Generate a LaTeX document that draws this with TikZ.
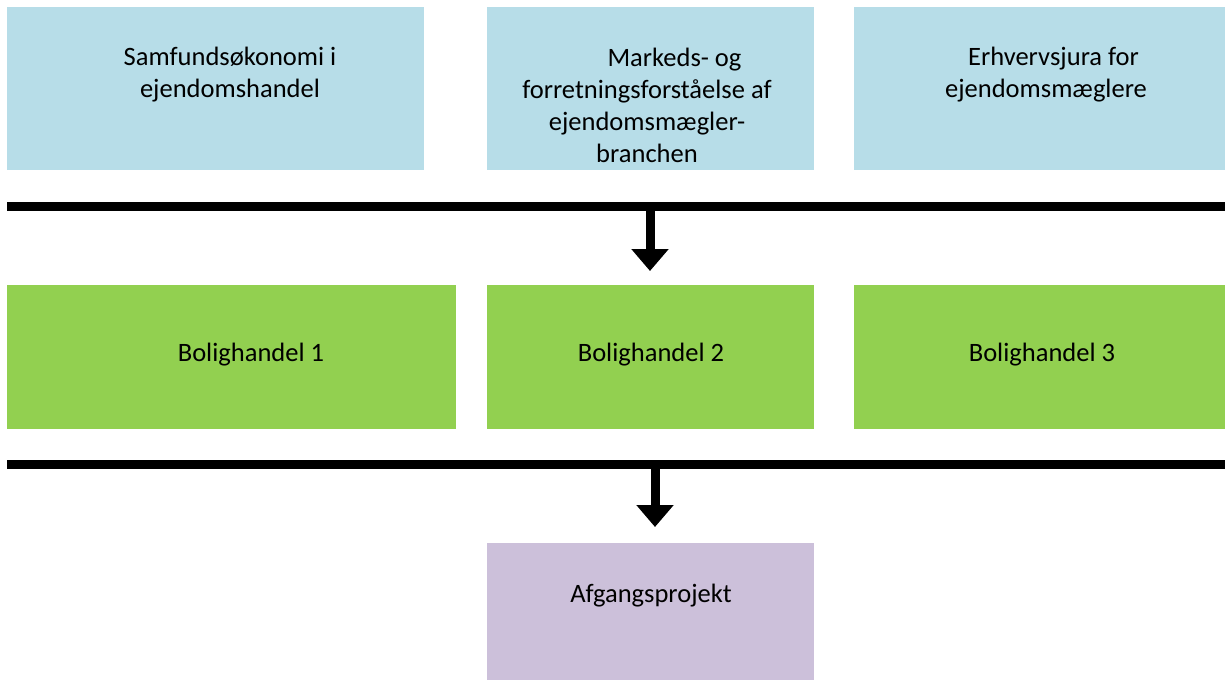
\documentclass[tikz,border=0pt]{standalone}
\usepackage{fontspec}
\setmainfont{Carlito}
\usetikzlibrary{arrows.meta}
\definecolor{lblue}{HTML}{B7DDE8}
\definecolor{lgreen}{HTML}{92D050}
\definecolor{lpurple}{HTML}{CCC0DA}
\begin{document}
\begin{tikzpicture}[x=0.02cm,y=-0.02cm]
        \tikzset{sq/.style={inner sep=0pt, outer sep=0pt, minimum height=3.26cm},
                 t/.style={inner sep=0pt, anchor=base, align=center,
                   font=\fontsize{15.1pt}{18.2pt}\selectfont},
                 bar/.style={line width=0.18cm},
                 arr/.style={line width=0.18cm, -{Triangle[width=0.72cm,length=0.44cm]}}}
        \useasboundingbox (0,0) rectangle (1225,680);

        % first row
        \draw node[sq, fill=lblue, minimum width=8.34cm] (eco) at (215.5,88.5) {};
        \draw node[sq, fill=lblue, minimum width=6.54cm] (mkt) at (650.5,88.5) {};
        \draw node[sq, fill=lblue, minimum width=7.42cm] (law) at (1039.5,88.5) {};
        \draw node[t] (ecot) at (230,97) {Samfundsøkonomi i\\ejendomshandel};
        \draw node[t] (mktt) at (647,162) {\hspace*{1.1cm}Markeds- og\\forretningsforståelse af\\ejendomsmægler-\\branchen};
        \draw node[t] (lawt) at (1046,97) {\hspace*{0.3cm}Erhvervsjura for\\ejendomsmæglere};

        % second row
        \draw node[sq, fill=lgreen, minimum width=8.98cm, minimum height=2.88cm] (bol1) at (231.5,357) {};
        \draw node[sq, fill=lgreen, minimum width=6.54cm, minimum height=2.88cm] (bol2) at (650.5,357) {};
        \draw node[sq, fill=lgreen, minimum width=7.42cm, minimum height=2.88cm] (bol3) at (1039.5,357) {};
        \draw node[t] (bol1t) at (251,361) {Bolighandel 1};
        \draw node[t] (bol2t) at (651,361) {Bolighandel 2};
        \draw node[t] (bol3t) at (1042,361) {Bolighandel 3};

        % last row
        \draw node[sq, fill=lpurple, minimum width=6.54cm, minimum height=2.74cm] (proj) at (650.5,611.5) {};
        \draw node[t] (projt) at (651,602) {Afgangsprojekt};

        % bars and arrows
        \coordinate (l1) at (7,206.5);
        \coordinate (r1) at (1225,206.5);
        \coordinate (a1) at (650,206.5);
        \coordinate (l2) at (7,464.5);
        \coordinate (r2) at (1225,464.5);
        \coordinate (a2) at (655,464.5);
        \draw[bar] (l1) -- (r1);
        \draw[bar] (l2) -- (r2);
        \draw[arr, shorten >=0.28cm] (a1) -- (a1 |- bol2.north);
        \draw[arr, shorten >=0.32cm] (a2) -- (a2 |- proj.north);
    \end{tikzpicture}
\end{document}
